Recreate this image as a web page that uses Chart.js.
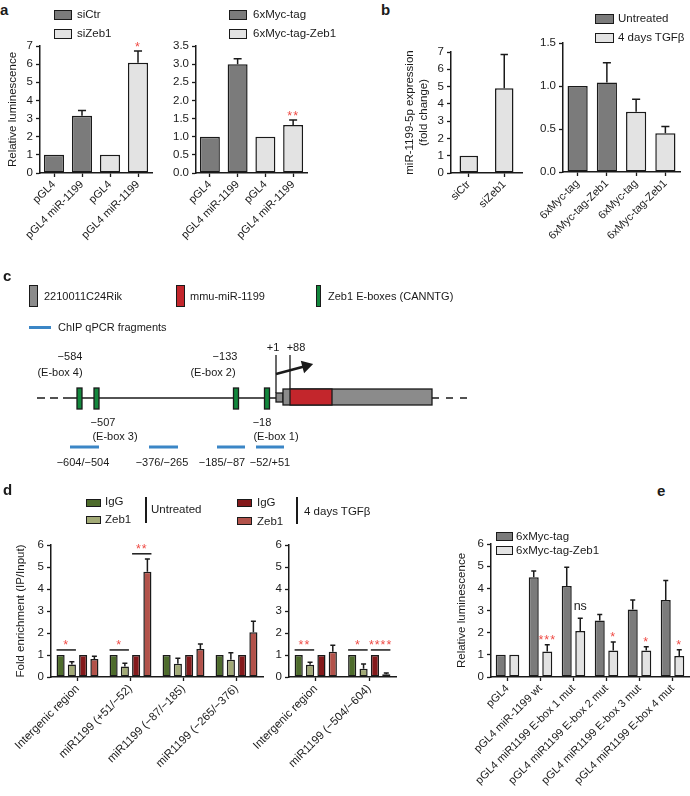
<!DOCTYPE html>
<html>
<head>
<meta charset="utf-8">
<script src="https://cdn.jsdelivr.net/npm/chart.js@4.4.1/dist/chart.umd.min.js"></script>
<style>
  body { margin: 0; background: #fff; }
  #fig { position: relative; width: 690px; height: 796px; overflow: hidden;
         font-family: "Liberation Sans", Arial, sans-serif; color: #1a1a1a; }
  .t { position: absolute; white-space: nowrap; line-height: 1; font-size: 11.5px; transform: translateY(-50%); }
  .tc { transform: translate(-50%, -50%); }
  .sw { position: absolute; box-sizing: border-box; border: 1.5px solid #1a1a1a; }
  .bar { position: absolute; }
</style>
</head>
<body>
<div id="fig"></div>
<script>
// ---- panel a: luciferase reporter ----
const aLabels = ['pGL4', 'pGL4 miR-1199', 'pGL4', 'pGL4 miR-1199'];
const aLeftSiCtr = [1, 3.15, null, null];
const aLeftSiCtrErr = [0, 0.29, 0, 0];
const aLeftSiZeb1 = [null, null, 1, 6.08];
const aLeftSiZeb1Err = [0, 0, 0, 0.64];
const aRightMyc = [1, 3.0, null, null];
const aRightMycErr = [0, 0.15, 0, 0];
const aRightMycZeb1 = [null, null, 1, 1.32];
const aRightMycZeb1Err = [0, 0, 0, 0.14];

// ---- panel b: miR-1199-5p expression ----
const bLeftLabels = ['siCtr', 'siZeb1'];
const bLeftValues = [1, 4.9];
const bLeftErr = [0, 1.95];
const bRightLabels = ['6xMyc-tag', '6xMyc-tag-Zeb1', '6xMyc-tag', '6xMyc-tag-Zeb1'];
const bRightUntreated = [1, 1.04, null, null];
const bRightUntreatedErr = [0, 0.23, 0, 0];
const bRightTgfb = [null, null, 0.70, 0.45];
const bRightTgfbErr = [0, 0, 0.145, 0.08];

// ---- panel d: ChIP qPCR ----
const dLeftLabels = ['Intergenic region', 'miR1199 (+51/\u221252)', 'miR1199 (\u221287/\u2212185)', 'miR1199 (\u2212265/\u2212376)'];
const dLeftIgGUntr = [1, 1, 1, 1];
const dLeftZeb1Untr = [0.57, 0.48, 0.60, 0.78];
const dLeftZeb1UntrErr = [0.12, 0.14, 0.25, 0.32];
const dLeftIgGTgfb = [1, 1, 1, 1];
const dLeftZeb1Tgfb = [0.82, 4.78, 1.27, 2.03];
const dLeftZeb1TgfbErr = [0.12, 0.58, 0.23, 0.50];
const dRightLabels = ['Intergenic region', 'miR1199 (\u2212504/\u2212604)'];
const dRightIgGUntr = [1, 1];
const dRightZeb1Untr = [0.56, 0.38];
const dRightZeb1UntrErr = [0.11, 0.21];
const dRightIgGTgfb = [1, 1];
const dRightZeb1Tgfb = [1.15, 0.12];
const dRightZeb1TgfbErr = [0.29, 0.06];

// ---- panel e: E-box mutants ----
const eLabels = ['pGL4', 'pGL4 miR-1199 wt', 'pGL4 miR1199 E-box 1 mut', 'pGL4 miR1199 E-box 2 mut',
                 'pGL4 miR1199 E-box 3 mut', 'pGL4 miR1199 E-box 4 mut'];
const eMyc = [1, 4.5, 4.1, 2.55, 3.05, 3.47];
const eMycErr = [0, 0.28, 0.85, 0.27, 0.42, 0.88];
const eMycZeb1 = [1, 1.15, 2.07, 1.2, 1.2, 0.95];
const eMycZeb1Err = [0, 0.3, 0.58, 0.38, 0.17, 0.28];

// significance marks
const aLeftSig = [{ds: 1, idx: 3, text: '*'}];
const aRightSig = [{ds: 1, idx: 3, text: '**'}];
const dLeftSig = [{idx: 0, from: 0, to: 1, y: 1.23, text: '*'},
                  {idx: 1, from: 0, to: 1, y: 1.23, text: '*'},
                  {idx: 1, from: 2, to: 3, y: 5.6, text: '**'}];
const dRightSig = [{idx: 0, from: 0, to: 1, y: 1.23, text: '**'},
                   {idx: 1, from: 0, to: 1, y: 1.23, text: '*'},
                   {idx: 1, from: 2, to: 3, y: 1.23, text: '****'}];
const eSig = [{ds: 1, idx: 1, text: '***'}, {ds: 1, idx: 2, text: 'ns'}, {ds: 1, idx: 3, text: '*'},
              {ds: 1, idx: 4, text: '*'}, {ds: 1, idx: 5, text: '*'}];

// ---- panel c: promoter schematic (diagram units, main line at 0) ----
const cMainLine = [{x: 65, y: 0}, {x: 283, y: 0}];
const cDashLeft = [{x: 37, y: 0}, {x: 65, y: 0}];
const cDashRight = [{x: 432, y: 0}, {x: 470, y: 0}];
const cFragments = [{x: 70, y: -49}, {x: 99, y: -49}, {x: 100, y: null},
                    {x: 149, y: -49}, {x: 178, y: -49}, {x: 179, y: null},
                    {x: 217, y: -49}, {x: 245, y: -49}, {x: 246, y: null},
                    {x: 256, y: -49}, {x: 284, y: -49}];
const cTss = [{x: 276, y: 43}, {x: 276, y: 5}, {x: 276.5, y: null}, {x: 290, y: 43}, {x: 290, y: 9}];
const cArrow = [{x: 276, y: 24}, {x: 306, y: 32}];
const cEboxes = [79.5, 96.5, 236, 267];
const cGene = [{from: 276, to: 283, lo: -4, hi: 5, kind: 'gene'},
               {from: 283, to: 432, lo: -7, hi: 9, kind: 'gene'},
               {from: 290, to: 332, lo: -7, hi: 9, kind: 'mir'}];

const INK = '#1a1a1a', DARK = '#7b7b7b', LIGHT = '#e3e3e3';
const G1 = '#4e6c2c', G2 = '#a2aa76', R1 = '#84191b', R2 = '#b2524a';
const STAR = '#ef4a44';
const C_GRAY = '#8b8b8b', C_RED = '#c3262c', C_GREEN = '#12873c', C_BLUE = '#3b86c6';

Chart.defaults.font.family = '"Liberation Sans", Arial, sans-serif';
Chart.defaults.color = INK;

const fig = document.getElementById('fig');

function text(s, x, y, opt = {}) {
  const d = document.createElement('div');
  d.className = 't' + (opt.center ? ' tc' : '');
  d.textContent = s;
  d.style.left = x + 'px';
  d.style.top = y + 'px';
  if (opt.size) d.style.fontSize = opt.size + 'px';
  if (opt.bold) d.style.fontWeight = 'bold';
  fig.appendChild(d);
}
function swatch(x, y, w, h, color) {
  const d = document.createElement('div');
  d.className = 'sw';
  d.style.cssText += `left:${x}px;top:${y}px;width:${w}px;height:${h}px;background:${color};`;
  fig.appendChild(d);
}
function rule(x, y, w, h, color) {
  const d = document.createElement('div');
  d.className = 'bar';
  d.style.cssText += `left:${x}px;top:${y}px;width:${w}px;height:${h}px;background:${color};`;
  fig.appendChild(d);
}
function makeCanvas(x, y, w, h) {
  const cv = document.createElement('canvas');
  cv.width = w; cv.height = h;
  cv.style.cssText = `position:absolute;left:${x}px;top:${y}px;width:${w}px;height:${h}px;`;
  fig.appendChild(cv);
  return cv;
}

// error bars (upper half only, like the figure)
const errorBars = {
  id: 'errorBars',
  afterDatasetsDraw(chart) {
    const {ctx, scales: {y}} = chart;
    chart.data.datasets.forEach((ds, i) => {
      if (!ds.errors) return;
      chart.getDatasetMeta(i).data.forEach((bar, j) => {
        const v = ds.data[j], e = ds.errors[j];
        if (v == null || !e) return;
        const top = y.getPixelForValue(v + e);
        const cap = Math.max(5, bar.width * 0.4);
        ctx.save();
        ctx.strokeStyle = INK;
        ctx.lineWidth = 1.5;
        ctx.beginPath();
        ctx.moveTo(bar.x, bar.y);
        ctx.lineTo(bar.x, top);
        ctx.moveTo(bar.x - cap / 2, top);
        ctx.lineTo(bar.x + cap / 2, top);
        ctx.stroke();
        ctx.restore();
      });
    });
  }
};

function drawMark(ctx, s, x, cy) {
  const star = /^\*+$/.test(s);
  const fs = star ? 12.5 : 12.5;
  ctx.font = fs + 'px "Liberation Sans", Arial, sans-serif';
  ctx.fillStyle = star ? STAR : INK;
  ctx.textAlign = 'center';
  ctx.textBaseline = 'alphabetic';
  ctx.letterSpacing = star ? '1px' : '0px';
  ctx.fillText(s, x, cy + (star ? 0.6 : 0.27) * fs);
}

function sigMarks(items) {
  return {
    id: 'sig',
    afterDatasetsDraw(chart) {
      const {ctx, scales: {y}} = chart;
      items.forEach(it => {
        ctx.save();
        if (it.from !== undefined) {
          const b1 = chart.getDatasetMeta(it.from).data[it.idx];
          const b2 = chart.getDatasetMeta(it.to).data[it.idx];
          const yy = y.getPixelForValue(it.y);
          const x1 = b1.x - b1.width / 2, x2 = b2.x + b2.width / 2;
          ctx.strokeStyle = INK;
          ctx.lineWidth = 1.5;
          ctx.beginPath();
          ctx.moveTo(x1, yy);
          ctx.lineTo(x2, yy);
          ctx.stroke();
          drawMark(ctx, it.text, (x1 + x2) / 2, yy - 8);
        } else {
          const ds = chart.data.datasets[it.ds];
          const bar = chart.getDatasetMeta(it.ds).data[it.idx];
          const top = y.getPixelForValue(ds.data[it.idx] + (ds.errors ? ds.errors[it.idx] : 0));
          drawMark(ctx, it.text, bar.x, top - (it.text === 'ns' ? 12 : 8));
        }
        ctx.restore();
      });
    }
  };
}

function bars(label, data, errors, color, extra) {
  return Object.assign({label, data, errors, backgroundColor: color, borderColor: INK,
                        borderWidth: 1.5, borderSkipped: false}, extra);
}

function barChart(o) {
  const [L, T, R, B] = o.area;
  const padL = 80, padT = 16, padR = 6, xh = 125;
  const w = padL + o.yw + (R - L) + padR, h = padT + (B - T) + xh;
  const cv = makeCanvas(L - o.yw - padL, T - padT, w, h);
  const axisGrid = {display: true, offset: false, drawOnChartArea: false, drawTicks: true,
                    tickLength: 4, tickWidth: 1.3, tickColor: INK};
  return new Chart(cv, {
    type: 'bar',
    data: {labels: o.labels, datasets: o.datasets},
    options: {
      responsive: false,
      animation: false,
      events: [],
      layout: {autoPadding: false, padding: {left: padL, top: padT, right: padR, bottom: 0}},
      plugins: {legend: {display: false}, tooltip: {enabled: false}},
      scales: {
        x: {
          grid: axisGrid,
          border: {color: INK, width: 1.5},
          ticks: {autoSkip: false, minRotation: 45, maxRotation: 45, padding: 1, color: INK,
                  font: {size: o.xFont || 11}},
          afterFit: s => { s.height = xh; s.paddingLeft = 0; s.paddingRight = 0; }
        },
        y: {
          min: 0, max: o.max,
          grid: axisGrid,
          border: {color: INK, width: 1.5},
          ticks: {stepSize: o.step, padding: 3, color: INK, font: {size: 11.5},
                  callback: v => o.dec ? v.toFixed(o.dec) : v},
          title: {display: !!o.title, text: o.title || '', color: INK, font: {size: 11.5},
                  padding: {top: 0, bottom: 0}},
          afterFit: s => { s.width = o.yw; s.paddingTop = 0; s.paddingBottom = 0; }
        }
      }
    },
    plugins: [errorBars, sigMarks(o.sig || [])]
  });
}

// ---------- panel a ----------
const single = {grouped: false, categoryPercentage: 1, barPercentage: 0.72};
barChart({
  area: [40, 46, 152, 173], yw: 34, max: 7, step: 1, title: 'Relative luminescence',
  labels: aLabels, sig: aLeftSig,
  datasets: [bars('siCtr', aLeftSiCtr, aLeftSiCtrErr, DARK, single),
             bars('siZeb1', aLeftSiZeb1, aLeftSiZeb1Err, LIGHT, single)]
});
barChart({
  area: [196, 46, 307, 173], yw: 40, max: 3.5, step: 0.5, dec: 1,
  labels: aLabels, sig: aRightSig,
  datasets: [bars('6xMyc-tag', aRightMyc, aRightMycErr, DARK, single),
             bars('6xMyc-tag-Zeb1', aRightMycZeb1, aRightMycZeb1Err, LIGHT, single)]
});

// ---------- panel b ----------
barChart({
  area: [451, 51.5, 522, 172.5], yw: 48, max: 7, step: 1,
  title: ['miR-1199-5p expression', '(fold change)'],
  labels: bLeftLabels,
  datasets: [bars('miR-1199-5p', bLeftValues, bLeftErr, LIGHT, {categoryPercentage: 1, barPercentage: 0.52})]
});
barChart({
  area: [563, 43, 680, 172], yw: 40, max: 1.5, step: 0.5, dec: 1,
  labels: bRightLabels,
  datasets: [bars('Untreated', bRightUntreated, bRightUntreatedErr, DARK, {grouped: false, categoryPercentage: 1, barPercentage: 0.69}),
             bars('4 days TGF\u03b2', bRightTgfb, bRightTgfbErr, LIGHT, {grouped: false, categoryPercentage: 1, barPercentage: 0.69})]
});

// ---------- panel d ----------
const quad = {categoryPercentage: 0.85, barPercentage: 0.72};
barChart({
  area: [51, 545, 263, 677], yw: 37, max: 6, step: 1, title: 'Fold enrichment (IP/Input)',
  labels: dLeftLabels, sig: dLeftSig, xFont: 11.5,
  datasets: [bars('IgG untreated', dLeftIgGUntr, null, G1, quad),
             bars('Zeb1 untreated', dLeftZeb1Untr, dLeftZeb1UntrErr, G2, quad),
             bars('IgG TGFb', dLeftIgGTgfb, null, R1, quad),
             bars('Zeb1 TGFb', dLeftZeb1Tgfb, dLeftZeb1TgfbErr, R2, quad)]
});
barChart({
  area: [289, 545, 396, 677], yw: 40, max: 6, step: 1,
  labels: dRightLabels, sig: dRightSig, xFont: 11.5,
  datasets: [bars('IgG untreated', dRightIgGUntr, null, G1, quad),
             bars('Zeb1 untreated', dRightZeb1Untr, dRightZeb1UntrErr, G2, quad),
             bars('IgG TGFb', dRightIgGTgfb, null, R1, quad),
             bars('Zeb1 TGFb', dRightZeb1Tgfb, dRightZeb1TgfbErr, R2, quad)]
});

// ---------- panel e ----------
const pair = {categoryPercentage: 0.82, barPercentage: 0.74};
barChart({
  area: [491, 544, 689, 677], yw: 36, max: 6, step: 1, title: 'Relative luminescence',
  labels: eLabels, sig: eSig,
  datasets: [bars('6xMyc-tag', eMyc, eMycErr, DARK, pair),
             bars('6xMyc-tag-Zeb1', eMycZeb1, eMycZeb1Err, LIGHT, pair)]
});

// ---------- panel c schematic ----------
const geneBoxes = {
  id: 'geneBoxes',
  afterDatasetsDraw(chart) {
    const {ctx, scales: {x, y}} = chart;
    const rect = (from, to, lo, hi, fill) => {
      const px = x.getPixelForValue(from), pw = x.getPixelForValue(to) - px;
      const py = y.getPixelForValue(hi), ph = y.getPixelForValue(lo) - py;
      ctx.fillStyle = fill;
      ctx.fillRect(px, py, pw, ph);
      ctx.strokeRect(px, py, pw, ph);
    };
    ctx.save();
    ctx.strokeStyle = INK;
    ctx.lineWidth = 1.3;
    cEboxes.forEach(p => rect(p - 2.5, p + 2.5, -11, 10, C_GREEN));
    cGene.forEach(g => rect(g.from, g.to, g.lo, g.hi, g.kind === 'mir' ? C_RED : C_GRAY));
    ctx.restore();
  }
};
const line = (data, extra) => Object.assign({data, showLine: true, borderColor: INK, borderWidth: 1.3,
                                             pointRadius: 0, spanGaps: false}, extra);
new Chart(makeCanvas(0, 250, 690, 230), {
  type: 'scatter',
  data: {datasets: [
    line(cMainLine),
    line(cDashLeft, {borderDash: [8, 5]}),
    line(cDashRight, {borderDash: [7, 7]}),
    line(cFragments, {borderColor: C_BLUE, borderWidth: 3}),
    line(cTss),
    line(cArrow, {borderWidth: 2.4, pointRadius: [0, 5], pointStyle: 'triangle', pointRotation: [0, 75],
                  pointBackgroundColor: INK, pointBorderColor: INK})
  ]},
  options: {
    responsive: false, animation: false, events: [],
    layout: {autoPadding: false, padding: 0},
    plugins: {legend: {display: false}, tooltip: {enabled: false}},
    scales: {x: {display: false, min: 0, max: 690}, y: {display: false, min: -82, max: 148}}
  },
  plugins: [geneBoxes]
});

// ---------- texts, legends ----------
text('a', 0, 9, {bold: true, size: 15});
text('b', 381, 9, {bold: true, size: 15});
text('c', 3, 275, {bold: true, size: 15});
text('d', 3, 489, {bold: true, size: 15});
text('e', 657, 490, {bold: true, size: 15});

swatch(54, 10, 18, 10, DARK); text('siCtr', 77, 15);
swatch(54, 29, 18, 10, LIGHT); text('siZeb1', 77, 34);
swatch(229, 10, 18, 10, DARK); text('6xMyc-tag', 253, 15);
swatch(229, 29, 18, 10, LIGHT); text('6xMyc-tag-Zeb1', 253, 34);
swatch(595, 14, 19, 10, DARK); text('Untreated', 618, 19);
swatch(595, 33, 19, 10, LIGHT); text('4 days TGF\u03b2', 618, 38);

swatch(29, 285, 9, 22, C_GRAY); text('2210011C24Rik', 44, 296, {size: 11});
swatch(176, 285, 9, 22, C_RED); text('mmu-miR-1199', 190, 296, {size: 11});
swatch(316, 285, 5, 22, C_GREEN); text('Zeb1 E-boxes (CANNTG)', 328, 296, {size: 11});
rule(29, 326, 22, 3, C_BLUE); text('ChIP qPCR fragments', 58, 327, {size: 11});

const cLabelSize = 11;
text('\u2212584', 70, 356, {center: true, size: cLabelSize});
text('(E-box 4)', 60, 372, {center: true, size: cLabelSize});
text('\u2212133', 225, 356, {center: true, size: cLabelSize});
text('(E-box 2)', 213, 372, {center: true, size: cLabelSize});
text('+1', 273, 347, {center: true, size: cLabelSize});
text('+88', 296, 347, {center: true, size: cLabelSize});
text('\u2212507', 103, 422, {center: true, size: cLabelSize});
text('(E-box 3)', 115, 436, {center: true, size: cLabelSize});
text('\u221218', 262, 422, {center: true, size: cLabelSize});
text('(E-box 1)', 276, 436, {center: true, size: cLabelSize});
text('\u2212604/\u2212504', 83, 462, {center: true, size: cLabelSize});
text('\u2212376/\u2212265', 162, 462, {center: true, size: cLabelSize});
text('\u2212185/\u221287', 222, 462, {center: true, size: cLabelSize});
text('\u221252/+51', 270, 462, {center: true, size: cLabelSize});

swatch(86, 499, 15, 8, G1); text('IgG', 105, 502);
swatch(86, 516, 15, 8, G2); text('Zeb1', 105, 520);
rule(145, 497, 1.5, 26, INK); text('Untreated', 151, 510);
swatch(237, 499, 15, 8, R1); text('IgG', 257, 503);
swatch(237, 517, 15, 8, R2); text('Zeb1', 257, 522);
rule(296, 497, 1.5, 27, INK); text('4 days TGF\u03b2', 304, 512);

swatch(496, 532, 17, 9, DARK); text('6xMyc-tag', 516, 537);
swatch(496, 546, 17, 9, LIGHT); text('6xMyc-tag-Zeb1', 516, 551);
</script>
</body>
</html>
